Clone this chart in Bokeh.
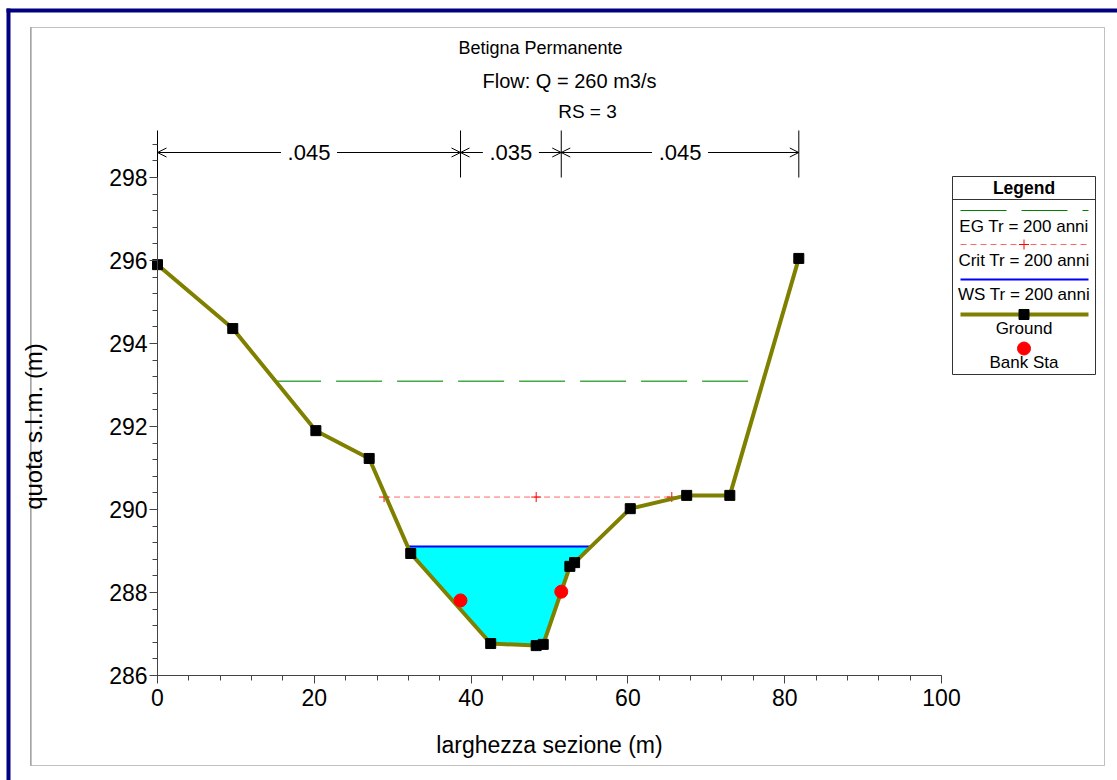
import numpy as np
from bokeh.plotting import figure
from bokeh.models import Range1d, BoxAnnotation, Arrow, OpenHead, FixedTicker
from bokeh.embed import file_html
from bokeh.resources import INLINE
from bokeh.core.properties import value

# ---------------- data ----------------
title_lines = ["Betigna Permanente", "Flow: Q = 260 m3/s", "RS = 3"]
x_label = "larghezza sezione (m)"
y_label = "quota s.l.m. (m)"

ground_x = [0.0, 9.6, 20.2, 27.0, 32.3, 42.5, 48.3, 49.2, 52.6, 53.2, 60.3, 67.5, 73.0, 81.8]
ground_y = [295.90, 294.36, 291.90, 291.23, 288.94, 286.77, 286.72, 286.75, 288.63, 288.72,
            290.02, 290.34, 290.34, 296.05]
bank_x = [38.65, 51.5]
bank_y = [287.81, 288.02]
ws_elev = 289.11
crit_x = [28.9, 48.3, 65.6]
crit_elev = 290.30
eg_x = [15.0, 75.7]
eg_elev = 293.09
n_values = [".045", ".035", ".045"]
n_breaks = [0.0, 38.65, 51.5, 81.8]
legend_title = "Legend"
legend_labels = ["EG Tr = 200 anni", "Crit Tr = 200 anni", "WS Tr = 200 anni", "Ground", "Bank Sta"]
x_ticks = [0, 20, 40, 60, 80, 100]
y_ticks = [286, 288, 290, 292, 294, 296, 298]

# ---------------- layout (pixels) ----------------
W, H = 1117, 780
X0PX, XPX100 = 157, 941          # pixel of x=0 and x=100
Y286PX, Y298PX = 675, 177        # pixel of y=286 and y=298
PXX = (XPX100 - X0PX) / 100.0
PXY = (Y286PX - Y298PX) / 12.0


def dx(px):
    return (px - X0PX) / PXX


def dy(py):
    return 286 + (Y286PX - py) / PXY


FONT = "Liberation Sans"
AXC = "#444444"

p = figure(width=W, height=H, output_backend="svg", toolbar_location=None,
           x_range=Range1d(dx(0), dx(W)), y_range=Range1d(dy(H), dy(0)),
           min_border_left=0, min_border_right=0, min_border_top=0, min_border_bottom=0)
p.outline_line_color = None
p.background_fill_color = "white"
p.border_fill_color = "white"
p.xgrid.visible = False
p.ygrid.visible = False

# axes
for ax in (p.xaxis[0], p.yaxis[0]):
    ax.major_label_text_font = FONT
    ax.major_label_text_font_size = "23px"
    ax.major_label_text_color = "black"
    ax.axis_label_text_font = FONT
    ax.axis_label_text_font_size = "23px"
    ax.axis_label_text_font_style = "normal"
    ax.axis_label_text_color = "black"
    ax.axis_line_color = AXC
    ax.major_tick_line_color = AXC
    ax.minor_tick_line_color = AXC
    ax.major_tick_in = 0
    ax.major_tick_out = 8
    ax.minor_tick_in = 0
    ax.minor_tick_out = 5

p.yaxis.axis_label_text_font_size = "24px"
p.xaxis.ticker = FixedTicker(ticks=x_ticks, minor_ticks=list(np.arange(0, 101, 4)))
p.yaxis.ticker = FixedTicker(ticks=y_ticks, minor_ticks=list(np.round(np.arange(286, 299.2, 0.4), 2)))
p.xaxis.fixed_location = 286
p.yaxis.fixed_location = 0
p.xaxis.bounds = (0, 100)
p.yaxis.bounds = (286, 298)
p.xaxis.axis_label = x_label
p.yaxis.axis_label = y_label
p.xaxis.major_label_standoff = 5
p.yaxis.major_label_standoff = 2
p.xaxis.axis_label_standoff = 23
p.yaxis.axis_label_standoff = 59
# continuation of the y axis line above the last tick
p.segment(x0=[0], y0=[298], x1=[0], y1=[dy(131)], line_color=AXC, line_width=1)

# ---------------- outer frames ----------------
cu = dict(left_units="canvas", right_units="canvas", top_units="canvas", bottom_units="canvas")
p.add_layout(BoxAnnotation(left=6, right=10, top=8, bottom=H, fill_color="#000080", fill_alpha=1,
                           line_color=None, level="underlay", **cu))
p.add_layout(BoxAnnotation(left=6, right=W, top=8, bottom=12, fill_color="#000080", fill_alpha=1,
                           line_color=None, level="underlay", **cu))
p.add_layout(BoxAnnotation(left=30, right=1104, top=27, bottom=765, fill_alpha=0,
                           line_color="#333333", line_width=1, level="underlay", **cu))
p.add_layout(BoxAnnotation(left=30, right=31, top=27, bottom=765, fill_color="#888888", fill_alpha=1,
                           line_color=None, level="underlay", **cu))

# ---------------- water surface fill ----------------
gx = np.array(ground_x)
gy = np.array(ground_y)
imin = int(np.argmin(gy))
i = imin
while gy[i] < ws_elev:
    i -= 1
xl = gx[i] + (ws_elev - gy[i]) * (gx[i + 1] - gx[i]) / (gy[i + 1] - gy[i])
j = imin
while gy[j] < ws_elev:
    j += 1
xr = gx[j - 1] + (ws_elev - gy[j - 1]) * (gx[j] - gx[j - 1]) / (gy[j] - gy[j - 1])
patch_x = [xl] + list(gx[i + 1:j]) + [xr]
patch_y = [ws_elev] + list(gy[i + 1:j]) + [ws_elev]
p.patch(patch_x, patch_y, fill_color="cyan", line_color=None)
p.line([xl, xr], [ws_elev, ws_elev], line_color="blue", line_width=2)

# critical depth
p.line(crit_x, [crit_elev] * len(crit_x), line_color="#ff6666", line_width=1, line_dash="6 4")
p.scatter(crit_x, [crit_elev] * len(crit_x), marker="cross", size=10, line_color="red", line_width=1)

# energy grade
p.line(eg_x, [eg_elev] * len(eg_x), line_color="#44aa44", line_width=1.3, line_dash="46 15")

# ground
p.line(ground_x, ground_y, line_color="#808000", line_width=4)
p.scatter(ground_x, ground_y, marker="square", size=10, fill_color="black", line_color="black")
p.scatter(bank_x, bank_y, marker="circle", size=13, fill_color="red", line_color="red")

# ---------------- Manning's n dimension lines ----------------
v_top, v_bot, h_y = dy(130), dy(177), dy(152)
p.segment(x0=n_breaks, y0=[v_bot] * len(n_breaks), x1=n_breaks, y1=[v_top] * len(n_breaks),
          line_color="black", line_width=1)
half_gap = 28 / PXX
for k, txt in enumerate(n_values):
    a, b = n_breaks[k], n_breaks[k + 1]
    mid = (a + b) / 2
    p.add_layout(Arrow(x_start=mid - half_gap, y_start=h_y, x_end=a, y_end=h_y,
                       end=OpenHead(size=9, line_width=1), line_width=1, line_color="black"))
    p.add_layout(Arrow(x_start=mid + half_gap, y_start=h_y, x_end=b, y_end=h_y,
                       end=OpenHead(size=9, line_width=1), line_width=1, line_color="black"))
    p.text([mid], [h_y], text=[txt], text_align="center", text_baseline="middle",
           text_font=value(FONT), text_font_size="22px", text_color="black")

# ---------------- titles ----------------
title_cx = [540, 569, 587]
title_cy = [47, 80, 111]
title_size = ["18px", "20px", "19px"]
for tx, ty, tt, ts in zip(title_cx, title_cy, title_lines, title_size):
    p.text([dx(tx)], [dy(ty)], text=[tt], text_align="center", text_baseline="middle",
           text_font=value(FONT), text_font_size=ts, text_color="black")

# ---------------- legend ----------------
LX0, LX1, LY0, LY1 = 952, 1095, 176, 374
LCX = (LX0 + LX1) / 2
p.quad(left=[dx(LX0)], right=[dx(LX1)], top=[dy(LY0)], bottom=[dy(LY1)],
       fill_color="white", line_color="#333333", line_width=1)
p.segment(x0=[dx(LX0)], y0=[dy(199)], x1=[dx(LX1)], y1=[dy(199)], line_color="#333333")
p.text([dx(LCX)], [dy(187)], text=[legend_title], text_align="center", text_baseline="middle",
       text_font=value(FONT), text_font_size="17.5px", text_font_style="bold", text_color="black")
line_y = [210, 244, 279, 314, 348]
label_y = [226, 260, 294, 328, 362]
ls_x0, ls_x1 = dx(960), dx(1088)
p.line([ls_x0, ls_x1], [dy(line_y[0])] * 2, line_color="green", line_width=1, line_dash="46 15")
p.line([ls_x0, ls_x1], [dy(line_y[1])] * 2, line_color="#ff6666", line_width=1, line_dash="6 4")
p.scatter([dx(LCX)], [dy(line_y[1])], marker="cross", size=10, line_color="red")
p.line([ls_x0, ls_x1], [dy(line_y[2])] * 2, line_color="blue", line_width=2)
p.line([ls_x0, ls_x1], [dy(line_y[3])] * 2, line_color="#808000", line_width=4)
p.scatter([dx(LCX)], [dy(line_y[3])], marker="square", size=10, fill_color="black", line_color="black")
p.scatter([dx(LCX)], [dy(line_y[4])], marker="circle", size=13, fill_color="red", line_color="red")
p.text([dx(LCX)] * len(legend_labels), [dy(v) for v in label_y], text=legend_labels,
       text_align="center", text_baseline="middle", text_font=value(FONT),
       text_font_size="17px", text_color="black")

open("out.html", "w").write(file_html(p, INLINE))
